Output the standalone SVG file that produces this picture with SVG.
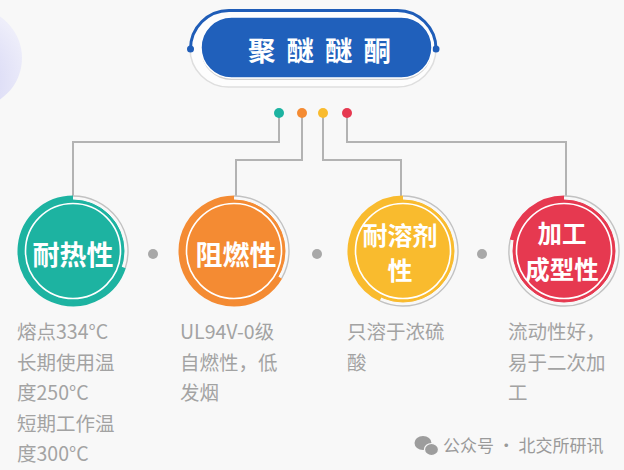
<svg xmlns="http://www.w3.org/2000/svg" width="624" height="470" viewBox="0 0 624 470">
<defs>
<style>
.conn{fill:none;stroke:#b3b3b3;stroke-width:2}
.ring{fill:none;stroke:#c2c2c2;stroke-width:1.4}
.arc{fill:none;stroke-width:5;stroke-linecap:butt}
.inner{fill:none;stroke:#fff;stroke-width:1.6}
.lbl{font-family:"Noto Sans CJK SC","Noto Sans",sans-serif;font-weight:bold;fill:#fff;text-anchor:middle}
.desc{font-family:"Noto Sans CJK SC","Noto Sans",sans-serif;font-size:19.5px;fill:#a3a3a3}
.sep{fill:#a8a8a8}
.teal{fill:#1db3a1;stroke:#1db3a1}
.orange{fill:#f48b33;stroke:#f48b33}
.yellow{fill:#f9bb2e;stroke:#f9bb2e}
.red{fill:#e63950;stroke:#e63950}
</style>
<radialGradient id="lav" cx="0.3" cy="0.75" r="0.8"><stop offset="0" stop-color="#c9c9f2"/><stop offset="1" stop-color="#eeeefa"/></radialGradient>
</defs>
<rect width="624" height="470" fill="#f8f8f8"/>
<circle cx="-28" cy="58" r="50" fill="url(#lav)"/>

<g id="title">
  <rect x="190" y="10" width="246" height="77" rx="38.5" fill="#fdfdfd" stroke="#dedede" stroke-width="1.5"/>
  <path d="M190.5,49 A38.5,38.5 0 0 1 229,10.5 H397.5 A38.5,38.5 0 0 1 436,49" fill="none" stroke="#1f5db8" stroke-width="3"/>
  <circle cx="190.5" cy="49" r="3.5" fill="#1f5db8"/>
  <circle cx="436" cy="49" r="3.5" fill="#1f5db8"/>
  <rect x="201" y="19" width="231" height="61" rx="30.5" fill="#d0d0d0"/>
  <rect x="201" y="17" width="231" height="61" rx="30.5" fill="#2060bb" stroke="#fff" stroke-width="1.5"/>
  <text x="248" y="61" font-family="'Noto Sans CJK SC','Noto Sans',sans-serif" font-weight="bold" font-size="27.5" letter-spacing="11" fill="#fff">聚醚醚酮</text>
</g>

<g id="connectors">
  <path class="conn" d="M279,113 V142 H73 V196"/>
  <path class="conn" d="M302,113 V160 H236 V196"/>
  <path class="conn" d="M323,113 V160 H401 V196"/>
  <path class="conn" d="M347,113 V142 H566 V196"/>
  <circle cx="279" cy="113" r="5" fill="#1db3a1"/>
  <circle cx="302" cy="113" r="5" fill="#f48b33"/>
  <circle cx="323" cy="113" r="5" fill="#f9bb2e"/>
  <circle cx="347" cy="113" r="5" fill="#e63950"/>
  <circle class="sep" cx="153" cy="254" r="5"/>
  <circle class="sep" cx="317" cy="254" r="5"/>
  <circle class="sep" cx="482" cy="254" r="5"/>
</g>

<g id="node-heat">
  <path class="ring" d="M73,196 A55,55 0 0 1 125.31,268"/>
  <circle class="teal" cx="73" cy="251" r="51" stroke="none"/>
  <path class="arc teal" style="fill:none" d="M123.41,267.38 A53,53 0 1 1 73,198"/>
  <circle class="inner" cx="73" cy="251" r="47.5"/>
  <text class="lbl" x="73" y="265" font-size="27">耐热性</text>
  <text class="desc" x="17" y="339">熔点334°C</text>
  <text class="desc" x="17" y="369.5">长期使用温</text>
  <text class="desc" x="17" y="400">度250°C</text>
  <text class="desc" x="17" y="430.5">短期工作温</text>
  <text class="desc" x="17" y="461">度300°C</text>
</g>

<g id="node-flame">
  <path class="ring" d="M234,196 A55,55 0 0 1 281.63,278.5"/>
  <circle class="orange" cx="234" cy="251" r="51" stroke="none"/>
  <path class="arc orange" style="fill:none" d="M279.9,277.5 A53,53 0 1 1 234,198"/>
  <circle class="inner" cx="234" cy="251" r="47.5"/>
  <text class="lbl" x="236" y="265" font-size="27">阻燃性</text>
  <text class="desc" x="180" y="339">UL94V-0级</text>
  <text class="desc" x="180" y="369.5">自燃性，低</text>
  <text class="desc" x="180" y="400">发烟</text>
</g>

<g id="node-solvent">
  <path class="ring" d="M403,196 A55,55 0 1 1 379.76,300.85"/>
  <circle class="yellow" cx="403" cy="251" r="51" stroke="none"/>
  <path class="arc yellow" style="fill:none" d="M380.6,299.03 A53,53 0 0 1 403,198"/>
  <circle class="inner" cx="403" cy="251" r="47.5"/>
  <text class="lbl" x="400" y="245" font-size="25">耐溶剂</text>
  <text class="lbl" x="400" y="280" font-size="25">性</text>
  <text class="desc" x="347" y="339">只溶于浓硫</text>
  <text class="desc" x="347" y="369.5">酸</text>
</g>

<g id="node-process">
  <path class="ring" d="M564,196 A55,55 0 1 1 510.2,239.56"/>
  <circle class="red" cx="564" cy="251" r="51" stroke="none"/>
  <path class="arc red" style="fill:none" d="M512.16,239.98 A53,53 0 0 1 564,198"/>
  <circle class="inner" cx="564" cy="251" r="47.5"/>
  <text class="lbl" x="562" y="243" font-size="24.5">加工</text>
  <text class="lbl" x="562" y="279" font-size="24.5">成型性</text>
  <text class="desc" x="508" y="339">流动性好，</text>
  <text class="desc" x="508" y="369.5">易于二次加</text>
  <text class="desc" x="508" y="400">工</text>
</g>

<g id="watermark">
  <ellipse cx="423" cy="443" rx="8.5" ry="7" fill="#9d9d9d"/>
  <ellipse cx="431.5" cy="449.5" rx="7" ry="6" fill="#9d9d9d" stroke="#f8f8f8" stroke-width="1.2"/>
  <text x="443" y="452" font-family="'Noto Sans CJK SC','Noto Sans',sans-serif" font-size="17" fill="#9a9a9a">公众号 · 北交所研讯</text>
</g>
</svg>
